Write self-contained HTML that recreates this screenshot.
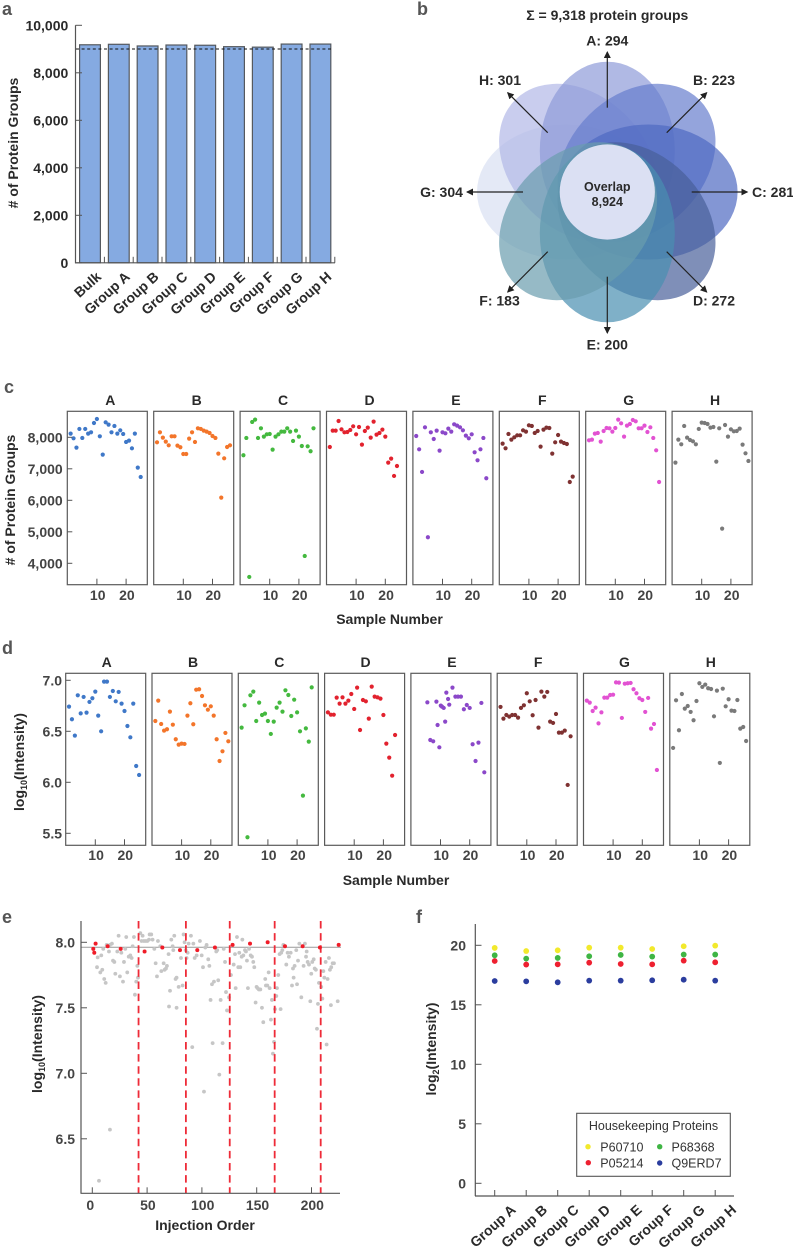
<!DOCTYPE html>
<html lang="en">
<head>
<meta charset="utf-8">
<title>Protein group figure</title>
<style>
html,body{margin:0;padding:0;background:#fff;}
svg{display:block;}
text{font-family:"Liberation Sans","DejaVu Sans",sans-serif;font-weight:bold;font-size:14px;fill:#2a2a2a;}
.pl{font-size:18px;fill:#555;}
.tk{fill:#444;}
.reg{font-weight:normal;fill:#333;}
</style>
</head>
<body>
<svg id="chart" xmlns="http://www.w3.org/2000/svg" width="793" height="1250" viewBox="0 0 793 1250">
<defs>
<marker id="ah" markerWidth="8" markerHeight="8" refX="6" refY="3.5" orient="auto" markerUnits="userSpaceOnUse"><path d="M0,0 L7,3.5 L0,7 Z" fill="#222"/></marker>
</defs>

<g id="panel-a">
<text class="pl" x="2" y="15">a</text>
<text transform="translate(18,143) rotate(-90)" text-anchor="middle"># of Protein Groups</text>
</g>

<g id="panel-b">
<text class="pl" x="417" y="15">b</text>
<text x="607.3" y="20" text-anchor="middle">Σ = 9,318 protein groups</text>
<g fill-opacity="0.7">
<ellipse cx="607.3" cy="150.7" rx="67.5" ry="89" fill="#d8e0f2" transform="rotate(270 607.3 192)"/>
<ellipse cx="607.3" cy="150.7" rx="67.5" ry="89" fill="#b2b8e7" transform="rotate(315 607.3 192)"/>
<ellipse cx="607.3" cy="150.7" rx="67.5" ry="89" fill="#8e9bd8" transform="rotate(0 607.3 192)"/>
<ellipse cx="607.3" cy="150.7" rx="67.5" ry="89" fill="#667ecd" transform="rotate(45 607.3 192)"/>
<ellipse cx="607.3" cy="150.7" rx="67.5" ry="89" fill="#4f69c2" transform="rotate(90 607.3 192)"/>
<ellipse cx="607.3" cy="150.7" rx="67.5" ry="89" fill="#48609a" transform="rotate(135 607.3 192)"/>
<ellipse cx="607.3" cy="150.7" rx="67.5" ry="89" fill="#488eb0" transform="rotate(180 607.3 192)"/>
<ellipse cx="607.3" cy="150.7" rx="67.5" ry="89" fill="#6a9cae" transform="rotate(225 607.3 192)"/>
</g>
<circle cx="607.3" cy="192" r="47.6" fill="#dbe0f3"/>
<text x="607.3" y="191" text-anchor="middle" style="font-size:12.5px">Overlap</text>
<text x="607.3" y="206" text-anchor="middle" style="font-size:12.5px">8,924</text>
<g stroke="#222" stroke-width="1.2" marker-end="url(#ah)">
<line x1="607.3" y1="107.7" x2="607.3" y2="52" marker-end="url(#ah)"/>
<line x1="666.7" y1="132.7" x2="706.7" y2="92.7" marker-end="url(#ah)"/>
<line x1="691.7" y1="192" x2="747.3" y2="192" marker-end="url(#ah)"/>
<line x1="666.7" y1="251.7" x2="706.7" y2="292" marker-end="url(#ah)"/>
<line x1="607.3" y1="276.7" x2="607.3" y2="333" marker-end="url(#ah)"/>
<line x1="547.7" y1="251.7" x2="507.7" y2="292" marker-end="url(#ah)"/>
<line x1="523" y1="192" x2="467" y2="192" marker-end="url(#ah)"/>
<line x1="547.7" y1="132.7" x2="507.7" y2="92.7" marker-end="url(#ah)"/>
</g>
<text x="607.3" y="45.5" text-anchor="middle">A: 294</text>
<text x="714" y="85" text-anchor="middle">B: 223</text>
<text x="752" y="197">C: 281</text>
<text x="714" y="305.5" text-anchor="middle">D: 272</text>
<text x="607.3" y="349.5" text-anchor="middle">E: 200</text>
<text x="499.5" y="305.5" text-anchor="middle">F: 183</text>
<text x="441.5" y="197" text-anchor="middle">G: 304</text>
<text x="500" y="85" text-anchor="middle">H: 301</text>
</g>

<g id="panel-c">
<text class="pl" x="4" y="393">c</text>
<text transform="translate(15,500) rotate(-90)" text-anchor="middle"># of Protein Groups</text>
<text x="389.5" y="624" text-anchor="middle">Sample Number</text>
</g>

<g id="panel-d">
<text class="pl" x="2" y="654">d</text>
<text transform="translate(24,762) rotate(-90)" text-anchor="middle">log<tspan dy="3" style="font-size:9px">10</tspan><tspan dy="-3">(Intensity)</tspan></text>
<text x="396" y="885" text-anchor="middle">Sample Number</text>
</g>

<g id="panel-e">
<text class="pl" x="2" y="923">e</text>
<text transform="translate(42,1044) rotate(-90)" text-anchor="middle">log<tspan dy="3" style="font-size:9px">10</tspan><tspan dy="-3">(Intensity)</tspan></text>
<text x="205" y="1230" text-anchor="middle">Injection Order</text>
</g>

<g id="panel-f">
<text class="pl" x="416" y="923">f</text>
<text transform="translate(436,1049) rotate(-90)" text-anchor="middle">log<tspan dy="3" style="font-size:9px">2</tspan><tspan dy="-3">(Intensity)</tspan></text>
<g>
<rect x="576.7" y="1113.3" width="153.6" height="63" fill="#fff" stroke="#555" stroke-width="1.1"/>
<text class="reg" x="653.5" y="1130" text-anchor="middle" style="font-size:12.5px">Housekeeping Proteins</text>
<circle cx="588" cy="1146.7" r="2.7" fill="#f2e92c"/>
<text class="reg" x="600.3" y="1151.5" style="font-size:12.5px">P60710</text>
<circle cx="659.7" cy="1146.7" r="2.7" fill="#3fb544"/>
<text class="reg" x="671.5" y="1151.5" style="font-size:12.5px">P68368</text>
<circle cx="588.3" cy="1162.7" r="2.7" fill="#ee2030"/>
<text class="reg" x="600.3" y="1167.5" style="font-size:12.5px">P05214</text>
<circle cx="659.7" cy="1163" r="2.7" fill="#2b3d9e"/>
<text class="reg" x="671.5" y="1167.5" style="font-size:12.5px">Q9ERD7</text>
</g>
</g>
</svg>

<script>
/* ---------- Panel a data ---------- */
const barCategories = ['Bulk','Group A','Group B','Group C','Group D','Group E','Group F','Group G','Group H'];
const barValues = [9180,9200,9130,9170,9160,9100,9080,9210,9210];
const barReference = 9000;
const barTicks = [0,2000,4000,6000,8000,10000];
const barTickLabels = ['0','2,000','4,000','6,000','8,000','10,000'];

/* ---------- Panels c / d shared ---------- */
const groupNames = ['A','B','C','D','E','F','G','H'];
const groupColors = ['#3f78c8','#f3752a','#44b93f','#e2222e','#8b48c9','#7f3232','#e252d2','#7a7a7a'];
const sampleTicks = [10,20];

/* ---------- Panel c data ---------- */
const cTicks = [4000,5000,6000,7000,8000];
const cTickLabels = ['4,000','5,000','6,000','7,000','8,000'];
const cValuesA = [8116,7968,7672,8265,7979,8265,8116,8159,8455,8582,8032,7450,8476,8402,8159,8360,8116,8222,8106,7852,7894,7650,8116,7037,6741];
const cValuesB = [7841,8159,7989,7862,7746,8032,8032,7735,7683,7471,7471,7958,8159,7852,8286,8265,8212,8180,8138,8042,7979,7482,6085,7333,7693,7746];
const cValuesC = [7429,7979,3567,8487,8561,7979,8286,8021,8095,8106,7609,8021,8095,8180,8180,8286,8180,7884,8212,8021,7725,4233,7714,7556,8286];
const cValuesD = [7693,8212,8212,8518,8254,8159,8169,8233,8349,8095,8328,7767,8201,8307,7989,8497,8085,8138,8243,8021,7196,7323,6773,7090];
const cValuesE = [8042,7619,6900,8317,4826,8159,7947,8212,7577,8159,8127,8275,8180,8413,8370,8317,8222,8053,7968,8095,7524,7270,7619,7979,6699];
const cValuesF = [7799,7651,8106,7926,8000,8063,8063,8222,8180,8381,8360,8138,8201,7704,8243,8307,8296,7482,7841,8074,7862,7820,7788,6582,6752];
const cValuesG = [7905,7926,8116,8138,7862,8201,8296,8286,8180,8296,8561,8444,8021,8370,8423,8550,8508,8286,8286,8370,8169,8317,7979,7587,6582];
const cValuesH = [7196,7926,7778,8360,7989,7915,7873,7778,8265,8466,8455,8423,8307,8328,7228,8286,5101,8391,8021,8254,8190,8201,8275,7767,7492,7249];
const cSeries = [cValuesA,cValuesB,cValuesC,cValuesD,cValuesE,cValuesF,cValuesG,cValuesH];

/* ---------- Panel d data ---------- */
const dTicks = [5.5,6.0,6.5,7.0];
const dTickLabels = ['5.5','6.0','6.5','7.0'];
const dValuesA = [6.742,6.618,6.458,6.853,6.676,6.837,6.683,6.788,6.824,6.889,6.654,6.5,6.987,6.987,6.837,6.895,6.794,6.886,6.771,6.699,6.552,6.441,6.771,6.16,6.072];
const dValuesB = [6.601,6.801,6.572,6.507,6.52,6.693,6.565,6.422,6.369,6.379,6.376,6.654,6.775,6.569,6.908,6.912,6.846,6.755,6.712,6.745,6.654,6.422,6.209,6.304,6.484,6.402];
const dValuesC = [6.536,6.755,5.461,6.853,6.889,6.601,6.781,6.66,6.673,6.601,6.474,6.595,6.732,6.781,6.693,6.902,6.856,6.65,6.81,6.686,6.5,5.869,6.529,6.399,6.931];
const dValuesD = [6.686,6.663,6.663,6.83,6.771,6.833,6.771,6.801,6.866,6.719,6.928,6.513,6.807,6.794,6.624,6.938,6.84,6.833,6.82,6.66,6.379,6.242,6.065,6.464];
const dValuesE = [6.784,6.415,6.402,6.791,6.562,6.343,6.752,6.742,6.729,6.595,6.879,6.817,6.761,6.928,6.84,6.84,6.84,6.716,6.758,6.729,6.373,6.209,6.389,6.778,6.098];
const dSamplesE = [5.5,6.5,7.5,8.6,9,9.6,10.1,10.5,11.1,11.6,12,12.6,13,14.1,15.1,16,17,18,19,20,21,22,23,24,25];
const dValuesF = [6.739,6.624,6.66,6.644,6.66,6.66,6.634,6.729,6.755,6.873,6.794,6.657,6.807,6.536,6.889,6.84,6.886,6.595,6.582,6.67,6.487,6.487,6.507,5.974,6.451];
const dValuesG = [6.801,6.781,6.699,6.732,6.578,6.686,6.83,6.83,6.856,6.859,6.98,6.977,6.631,6.967,6.971,6.974,6.912,6.873,6.824,6.807,6.69,6.827,6.526,6.572,6.121];
const dValuesH = [6.337,6.804,6.51,6.866,6.722,6.748,6.69,6.608,6.797,6.971,6.935,6.958,6.922,6.915,6.647,6.899,6.19,6.918,6.745,6.814,6.703,6.699,6.807,6.526,6.542,6.405];
const dSeries = [dValuesA,dValuesB,dValuesC,dValuesD,dValuesE,dValuesF,dValuesG,dValuesH];

/* ---------- Panel e data ---------- */
const eXTicks = [0,50,100,150,200];
const eYTicks = [6.5,7.0,7.5,8.0];
const eYTickLabels = ['6.5','7.0','7.5','8.0'];
const eMedian = 7.962;
const eBatchBoundaries = [42.2,85.4,125.4,166.4,208.4];
const eSampleOrder = [6.1,16.1,4.3,4.9,8.2,9.1,7.3,10.9,12.2,10,13.1,15.2,16.1,17.9,18.9,20.1,21,22.8,24,25.2,26.5,28,28.9,30.1,31,31.9,33.2,34.7,35.9,36.8,38,38.9,40.1,41.1,41.7,43.8,45,45.9,47.1,48.7,50.2,51.7,52.3,53.8,55,56.6,57.8,59,59.9,62,63,65.1,66,67.2,68.1,69.6,70,70.9,72.1,73.3,73.9,74.8,76,76.9,76.9,78.8,80.9,82.4,83.3,84.2,85.2,86,87,87.9,90,91.2,92.2,93.4,95.2,98.2,99.8,101,101.9,103.1,104.3,105.8,106.8,107.9,109.2,111,109.8,113.1,114,114.9,115.9,117.1,118.9,119.9,121.1,122,122.9,124.7,126.5,129,130.2,130.8,132,133.2,134.1,135,136.3,136.9,137.8,139.3,140.2,141.1,142,143,144.5,145.7,146.9,147.8,149,149.9,150.8,152,153.3,154.8,156,157.8,158.4,159.7,160.9,161.8,163,163.9,164.8,165.8,166.7,167.9,168.5,169.7,170.9,171.8,172.4,173.4,174.3,177,178.2,179.4,181,182.2,183.1,183.7,184.6,186.1,186.8,187.7,188.9,190.7,192.8,194,195,195.6,196.5,197.7,198.9,199.8,200.7,202,202.9,204,205,205.9,206.8,208.9,209.9,210.8,211.7,212.9,213.8,214.7,215.9,216.8,218,217.7,219.3,220.5,223.9];
const eSampleIntensity = [6.18,6.57,7.81,7.885,7.9,7.79,7.77,7.72,7.69,7.95,7.98,7.93,7.98,7.99,7.86,7.85,7.76,7.93,8.05,7.74,7.92,7.7,7.85,7.95,8.04,7.77,7.89,7.9,7.88,7.97,8.04,7.6,7.7,7.82,7.73,8.07,8.01,8.05,8.01,8.01,8.01,8.02,8.06,8.06,8.02,7.95,7.84,7.74,8.01,7.97,7.78,7.84,7.79,7.8,7.82,7.91,7.51,7.63,8.02,7.97,7.94,8.05,7.72,7.73,7.5,7.66,7.88,7.67,8.06,8,7.94,7.88,7.92,7.99,8.05,7.2,7.99,7.88,7.9,8.01,7.9,7.81,6.86,7.96,7.98,7.87,7.82,7.56,7.68,7.7,7.23,7.93,7.94,7.71,6.99,7.56,7.23,7.95,7.85,7.62,7.48,7.58,7.75,7.83,7.91,7.65,8.04,7.81,7.92,7.81,7.89,8.02,7.9,7.94,7.93,7.86,7.65,7.95,7.9,7.89,7.85,7.81,7.54,7.66,7.65,7.64,7.64,7.5,7.39,7.72,7.67,7.67,7.77,7.65,7.41,7.56,7.15,7.24,7.49,7.59,7.65,7.75,7.91,7.49,7.92,7.94,7.98,7.83,7.92,7.89,7.92,7.67,7.8,7.73,7.82,7.94,7.68,7.86,7.99,7.58,7.82,7.99,7.89,7.93,7.85,7.83,7.55,7.76,7.85,7.87,7.8,7.79,7.34,7.53,7.69,7.66,7.57,7.78,7.73,7.85,7.22,7.72,7.88,7.79,7.81,7.52,7.84,7.84,7.55];
const eQcOrder = [0.9,3,1.8,14,25.9,47.7,63.9,80,95.8,111.9,128,143.9,160,175.8,191.9,207.7,224.8];
const eQcIntensity = [7.95,7.99,7.92,7.97,7.95,7.93,7.96,7.94,7.94,7.96,7.98,7.99,8,7.97,7.97,7.96,7.98];

/* ---------- Panel f data ---------- */
const fGroups = ['Group A','Group B','Group C','Group D','Group E','Group F','Group G','Group H'];
const fTicks = [0,5,10,15,20];
const fP60710 = [19.78,19.52,19.58,19.8,19.8,19.69,19.92,19.97];
const fP68368 = [19.16,18.88,18.94,19.08,19.19,19.05,19.22,19.22];
const fP05214 = [18.68,18.38,18.4,18.54,18.43,18.4,18.71,18.57];
const fQ9ERD7 = [17,16.97,16.89,17.03,17.03,17.06,17.11,17.03];

/* ---------- Axis functions ---------- */
const aX = i => 90 + i * 28.8;
const aY = v => 262.8 - v * 0.02375;
const cY = v => 437.3 + (8000 - v) * 0.0315;
const dY = v => 680.3 + (7 - v) * 102;
const cLeft = i => 67.3 + i * 86.4;
const dLeft = i => 65.7 + i * 86.3;
const sampleX = (left, n) => left + 0.4 + 2.92 * n;
const eX = v => 92.3 + v * 1.096;
const eY = v => 942.3 + (8 - v) * 131;
const fX = i => 494.7 + i * 31.5;
const fY = v => 1183.3 - v * 11.9;

const SVGNS = 'http://www.w3.org/2000/svg';
const AXIS = '#555';
function mk(tag, attrs, parent) {
  const n = document.createElementNS(SVGNS, tag);
  for (const k in attrs) n.setAttribute(k, attrs[k]);
  parent.appendChild(n);
  return n;
}
function txt(str, attrs, parent) {
  const n = mk('text', attrs, parent);
  n.textContent = str;
  return n;
}

/* ---------- Draw panel a ---------- */
(function () {
  const root = document.getElementById('panel-a');
  barCategories.forEach((c, i) => {
    const bar = mk('rect', {x: aX(i) - 10.4, y: aY(barValues[i]), width: 20.8, height: aY(0) - aY(barValues[i]), fill: '#85aae1', stroke: '#55595f', 'stroke-width': 1.2}, root);
    
    
    const label = txt(c, {'text-anchor': 'end', transform: 'translate(' + (aX(i) + 12) + ',278) rotate(-42)'}, root);
    
    
    const tick = mk('line', {x1: aX(i) + 14.4, x2: aX(i) + 14.4, y1: aY(0), y2: aY(0) - 6, stroke: AXIS, 'stroke-width': 1}, root);
    
    
  });
  const yAxis = mk('line', {x1: 75.5, x2: 75.5, y1: aY(10000), y2: aY(0) + 0.5, stroke: AXIS, 'stroke-width': 1.2}, root);
  
  
  const xAxis = mk('line', {x1: 75, x2: 335, y1: aY(0), y2: aY(0), stroke: AXIS, 'stroke-width': 1.2}, root);
  
  
  const ref = mk('line', {x1: 76, x2: 331, y1: aY(barReference), y2: aY(barReference), stroke: '#111', 'stroke-width': 1, 'stroke-dasharray': '3 2.6'}, root);
  
  
  barTicks.forEach((t, i) => {
    const tick = mk('line', {x1: 75.5, x2: 82, y1: aY(t), y2: aY(t), stroke: AXIS, 'stroke-width': 1}, root);
    
    
    const label = txt(barTickLabels[i], {x: 68.3, y: aY(t) + 5, 'text-anchor': 'end'}, root);
    
    
  });
})();

/* ---------- Draw small multiples c / d ---------- */
function drawMultiples(rootId, series, leftFn, yFn, top, bottom, titleBase, titleShift, labelBase, ticks, tickLabels, labelRight, altSamples) {
  const root = document.getElementById(rootId);
  groupNames.forEach((g, i) => {
    const left = leftFn(i);
    const frame = mk('rect', {x: left, y: top, width: 80, height: bottom - top, fill: 'none', stroke: '#5a5a5a', 'stroke-width': 1.2}, root);
    
    
    const title = txt(g, {x: left + 40 + titleShift, y: titleBase, 'text-anchor': 'middle'}, root);
    
    
    sampleTicks.forEach(t => {
      const tick = mk('line', {x1: sampleX(left, t), x2: sampleX(left, t), y1: bottom, y2: bottom - 6, stroke: AXIS, 'stroke-width': 1}, root);
      
      
      const label = txt(String(t), {x: sampleX(left, t) + 0.8, y: labelBase, 'text-anchor': 'middle'}, root);
      label.setAttribute('class', 'tk');
      
      
    });
    const samples = altSamples[i];
    series[i].forEach((v, k) => {
      const n = samples ? samples[k] : k + 1;
      const dot = mk('circle', {cx: sampleX(left, n), cy: yFn(v), r: 2.1, fill: groupColors[i]}, root);
      
      
    });
  });
  ticks.forEach((t, i) => {
    const tick = mk('line', {x1: leftFn(0), x2: leftFn(0) + 5, y1: yFn(t), y2: yFn(t), stroke: AXIS, 'stroke-width': 1}, root);
    
    
    const label = txt(tickLabels[i], {x: labelRight, y: yFn(t) + 5, 'text-anchor': 'end'}, root);
    label.setAttribute('class', 'tk');
    
    
  });
}
drawMultiples('panel-c', cSeries, cLeft, cY, 411.3, 584.7, 405, 3, 600, cTicks, cTickLabels, 62.7, []);
drawMultiples('panel-d', dSeries, dLeft, dY, 673.3, 845.3, 667, 1, 860, dTicks, dTickLabels, 62, [null,null,null,null,dSamplesE,null,null,null]);

/* ---------- Draw panel e ---------- */
(function () {
  const root = document.getElementById('panel-e');
  const bottom = 1193.3;
  const median = mk('line', {x1: 81, x2: 341, y1: eY(eMedian), y2: eY(eMedian), stroke: '#999', 'stroke-width': 1}, root);
  
  
  eSampleOrder.forEach((x, i) => {
    const dot = mk('circle', {cx: eX(x), cy: eY(eSampleIntensity[i]), r: 1.9, fill: '#c6c6c6'}, root);
    
    
  });
  eBatchBoundaries.forEach(b => {
    const line = mk('line', {x1: eX(b), x2: eX(b), y1: 921, y2: bottom, stroke: '#ee2b38', 'stroke-width': 1.8, 'stroke-dasharray': '7.5 4.6'}, root);
    
    
  });
  eQcOrder.forEach((x, i) => {
    const dot = mk('circle', {cx: eX(x), cy: eY(eQcIntensity[i]), r: 2, fill: '#f01c28'}, root);
    
    
  });
  const yAxis = mk('line', {x1: 81, x2: 81, y1: 921, y2: bottom, stroke: AXIS, 'stroke-width': 1.2}, root);
  
  
  const xAxis = mk('line', {x1: 80.5, x2: 340, y1: bottom, y2: bottom, stroke: AXIS, 'stroke-width': 1.2}, root);
  
  
  eXTicks.forEach(t => {
    const tick = mk('line', {x1: eX(t), x2: eX(t), y1: bottom, y2: bottom - 6, stroke: AXIS, 'stroke-width': 1}, root);
    
    
    const label = txt(String(t), {x: eX(t) + (t === 0 ? -2 : 0.8), y: 1210, 'text-anchor': 'middle'}, root);
    label.setAttribute('class', 'tk');
    
    
  });
  eYTicks.forEach((t, i) => {
    const tick = mk('line', {x1: 81, x2: 87, y1: eY(t), y2: eY(t), stroke: AXIS, 'stroke-width': 1}, root);
    
    
    const label = txt(eYTickLabels[i], {x: 75, y: eY(t) + 5, 'text-anchor': 'end'}, root);
    label.setAttribute('class', 'tk');
    
    
  });
})();

/* ---------- Draw panel f ---------- */
(function () {
  const root = document.getElementById('panel-f');
  const bottom = 1196;
  const yAxis = mk('line', {x1: 475.3, x2: 475.3, y1: 924, y2: bottom, stroke: AXIS, 'stroke-width': 1.2}, root);
  
  
  const xAxis = mk('line', {x1: 475, x2: 734, y1: bottom, y2: bottom, stroke: AXIS, 'stroke-width': 1.2}, root);
  
  
  fTicks.forEach(t => {
    const tick = mk('line', {x1: 475.3, x2: 481.5, y1: fY(t), y2: fY(t), stroke: AXIS, 'stroke-width': 1}, root);
    
    
    const label = txt(String(t), {x: 466, y: fY(t) + 5, 'text-anchor': 'end'}, root);
    label.setAttribute('class', 'tk');
    
    
  });
  fGroups.forEach((g, i) => {
    const tick = mk('line', {x1: fX(i), x2: fX(i), y1: bottom, y2: bottom - 6, stroke: AXIS, 'stroke-width': 1}, root);
    
    
    const label = txt(g, {'text-anchor': 'end', transform: 'translate(' + (fX(i) + 22) + ',1211) rotate(-42)'}, root);
    
    
    [[fQ9ERD7,'#2b3d9e','q9erd7'],[fP05214,'#ee2030','p05214'],[fP68368,'#3fb544','p68368'],[fP60710,'#f2e92c','p60710']].forEach(s => {
      const dot = mk('circle', {cx: fX(i), cy: fY(s[0][i]), r: 2.9, fill: s[1]}, root);
      
      
    });
  });
})();
</script>
</body>
</html>
